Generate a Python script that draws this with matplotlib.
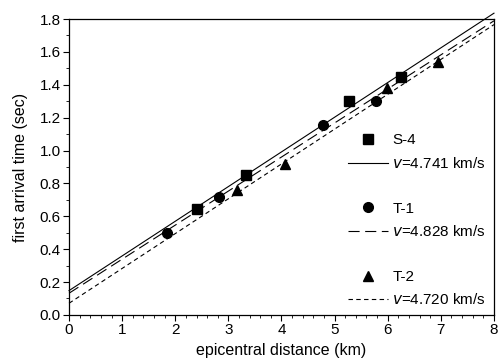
import numpy as np
import matplotlib
matplotlib.use("Agg")
import matplotlib.pyplot as plt
from matplotlib.lines import Line2D
from matplotlib.ticker import MultipleLocator, FormatStrFormatter

plt.rcParams['font.family'] = ['Liberation Sans', 'DejaVu Sans']

# --- data ---
s4_x = [2.40, 3.33, 5.28, 6.25]
s4_y = [0.645, 0.85, 1.30, 1.45]
t1_x = [1.85, 2.82, 4.78, 5.77]
t1_y = [0.50, 0.72, 1.155, 1.30]
t2_x = [3.17, 4.07, 5.98, 6.95]
t2_y = [0.76, 0.92, 1.38, 1.54]

# fitted lines: t = intercept + d / v
velocities = [4.741, 4.828, 4.720]
intercepts = [0.148, 0.132, 0.071]
names = ["S-4", "T-1", "T-2"]

fig = plt.figure(figsize=(5.02, 3.62), dpi=100)
ax = fig.add_axes([0.1375, 0.130, 0.8465, 0.8175])

ax.plot(s4_x, s4_y, 's', color='black', markersize=6.5, linestyle='none')
ax.plot(t1_x, t1_y, 'o', color='black', markersize=7, linestyle='none')
ax.plot(t2_x, t2_y, '^', color='black', markersize=7.5, linestyle='none')

d = np.array([0.0, 8.0])
styles = [dict(linestyle='-'),
          dict(linestyle=(0, (10, 5))),
          dict(linestyle=(0, (4, 3)))]
for v, b, st in zip(velocities, intercepts, styles):
    ax.plot(d, b + d / v, color='black', linewidth=0.8, clip_on=False, **st)

ax.set_xlim(0, 8)
ax.set_ylim(0, 1.8)
ax.xaxis.set_major_locator(MultipleLocator(1))
ax.xaxis.set_minor_locator(MultipleLocator(0.2))
ax.yaxis.set_major_locator(MultipleLocator(0.2))
ax.yaxis.set_minor_locator(MultipleLocator(0.1))
ax.yaxis.set_major_formatter(FormatStrFormatter('%.1f'))
ax.tick_params(which='major', direction='out', length=4, width=0.8,
               labelsize=11, pad=2)
ax.tick_params(which='minor', direction='out', length=2, width=0.6)
for sp in ax.spines.values():
    sp.set_linewidth(0.9)

ax.set_xlabel("epicentral distance (km)", fontsize=11.5, labelpad=4)
ax.set_ylabel("first arrival time (sec)", fontsize=11.5, labelpad=8)

blank = Line2D([], [], linestyle='none')
handles = [
    Line2D([], [], marker='s', color='black', linestyle='none', markersize=6.5),
    Line2D([], [], color='black', linewidth=0.8, **styles[0]),
    blank,
    Line2D([], [], marker='o', color='black', linestyle='none', markersize=7),
    Line2D([], [], color='black', linewidth=0.8, **styles[1]),
    blank,
    Line2D([], [], marker='^', color='black', linestyle='none', markersize=7.5),
    Line2D([], [], color='black', linewidth=0.8, **styles[2]),
]
labels = []
for i, (n, v) in enumerate(zip(names, velocities)):
    labels += [n, f"$v$={v:.3f} km/s"]
    if i < 2:
        labels.append("")
ax.legend(handles, labels, loc='lower right', bbox_to_anchor=(1.0, 0.0),
          frameon=False, fontsize=11, handlelength=2.6, handletextpad=0.3,
          labelspacing=0.55, borderaxespad=0.1, numpoints=1)

fig.savefig("out.png", dpi=100)
